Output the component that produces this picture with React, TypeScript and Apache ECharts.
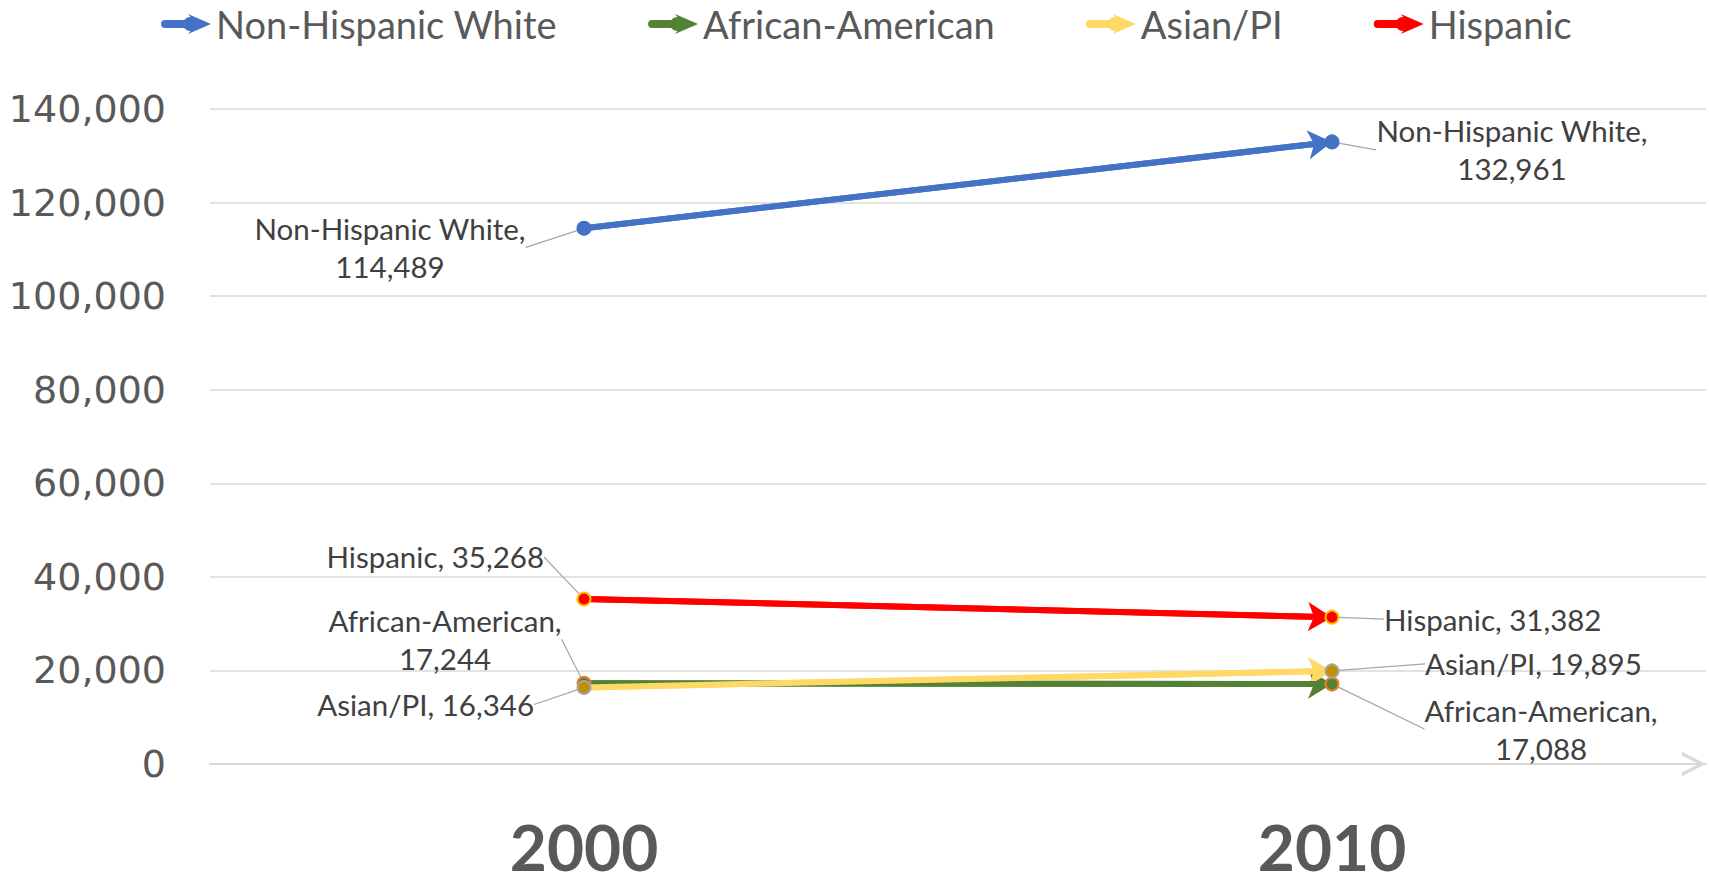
import React, { useEffect, useRef } from "react";
import * as echarts from "echarts";

const years = ["2000", "2010"];
const seriesNames = ["Non-Hispanic White", "African-American", "Asian/PI", "Hispanic"];
const nonHispanicWhite = [114489, 132961];
const africanAmerican = [17244, 17088];
const asianPI = [16346, 19895];
const hispanic = [35268, 31382];
const yTicks = { min: 0, max: 140000, interval: 20000 };

const lineColors = ["#4472C4", "#548235", "#FFD966", "#FF0000"];
const markerFill = ["#4472C4", "#548235", "#BF9000", "#FF0000"];
const markerBorder = ["#4472C4", "#ED7D31", "#A5A5A5", "#FFC000"];

// label offsets relative to the data point: [dx, dy, align]
const labelOffsets: [number, number, string][][] = [
  [[-194, 19, "center"], [180, 8, "center"]],
  [[-139, -44, "center"], [209, 45, "center"]],
  [[-50, 17, "right"], [93, -7, "left"]],
  [[-40, -42, "right"], [52, 2, "left"]],
];

const fmt = (v: number) => v.toLocaleString("en-US");

const legendIcon =
  "path://M4,6 L32,6 L27,0 L50,10 L27,20 L32,14 L4,14 A4,4 0 0 1 4,6 Z M22,10 A7,7 0 1 1 36,10 A7,7 0 1 1 22,10 Z";
const axisArrow = "path://M0,20 L10,0 L20,20 L17,20 L10,6 L3,20 Z";

export default function App() {
  const ref = useRef<HTMLDivElement>(null);
  useEffect(() => {
    if (!ref.current) return;
    const chart = echarts.init(ref.current, undefined, { renderer: "svg" });
    const allData = [nonHispanicWhite, africanAmerican, asianPI, hispanic];
    const series = seriesNames.map((name, si) => {
      const values = allData[si];
      const multiLine = si < 2;
      return {
        name,
        type: "line",
        data: values,
        symbol: "circle",
        symbolSize: 13,
        z: 3 + si,
        lineStyle: { color: lineColors[si], width: 6 },
        itemStyle: { color: markerFill[si], borderColor: markerBorder[si], borderWidth: 2 },
        label: {
          show: true,
          formatter: (p: any) =>
            multiLine ? `${name},\n${fmt(p.value)}` : `${name}, ${fmt(p.value)}`,
          fontFamily: "Lato",
          fontSize: 29.5,
          lineHeight: 38,
          color: "#404040",
        },
        labelLine: {
          show: true,
          lineStyle: { color: "#A6A6A6", width: 1.2 },
        },
        labelLayout: (params: any) => {
          const off = labelOffsets[si][params.dataIndex];
          const cx = params.rect.x + params.rect.width / 2;
          const cy = params.rect.y + params.rect.height / 2;
          return { x: cx + off[0], y: cy + off[1], align: off[2], verticalAlign: "middle" };
        },
        emphasis: { disabled: true },
        markLine: {
          silent: true,
          z: 2 + si,
          symbol: ["none", "arrow"],
          symbolSize: [22, 24],
          label: { show: false },
          lineStyle: { color: lineColors[si], width: 6, type: "solid" },
          emphasis: { disabled: true },
          data: [[{ coord: [years[0], values[0]] }, { coord: [years[1], values[1]] }]],
        },
      };
    });
    chart.setOption({
      animation: false,
      legend: {
        left: 156,
        top: 0,
        itemGap: 91,
        itemWidth: 50,
        itemHeight: 20,
        icon: legendIcon,
        textStyle: { fontFamily: "Lato", fontSize: 38, color: "#595959" },
        data: seriesNames.map((n, i) => ({
          name: n,
          itemStyle: { color: lineColors[i], borderWidth: 0 },
        })),
      },
      grid: {
        left: 210,
        right: 3,
        top: 109,
        bottom: 122,
        containLabel: false,
        outerBoundsMode: "none",
      },
      xAxis: {
        type: "category",
        data: years,
        boundaryGap: true,
        axisLine: {
          show: true,
          symbol: ["none", axisArrow],
          symbolSize: [24, 24],
          symbolOffset: [0, -12],
          lineStyle: { color: "#D9D9D9", width: 2 },
        },
        axisTick: { show: false },
        axisLabel: {
          fontFamily: "Lato",
          fontWeight: "bold",
          fontSize: 64,
          lineHeight: 40,
          verticalAlign: "middle",
          margin: 82,
          color: "#595959",
        },
      },
      yAxis: {
        type: "value",
        min: yTicks.min,
        max: yTicks.max,
        interval: yTicks.interval,
        axisLine: { show: false },
        axisTick: { show: false },
        splitLine: { lineStyle: { color: "#D9D9D9", width: 1.5 } },
        axisLabel: {
          formatter: (v: number) => fmt(v),
          fontFamily: "DejaVu Sans",
          fontSize: 38,
          color: "#595959",
          margin: 44,
        },
      },
      series,
    });
    return () => chart.dispose();
  }, []);
  return (
    <div ref={ref} style={{ position: "absolute", left: 0, top: 0, width: 1709, height: 886 }} />
  );
}
